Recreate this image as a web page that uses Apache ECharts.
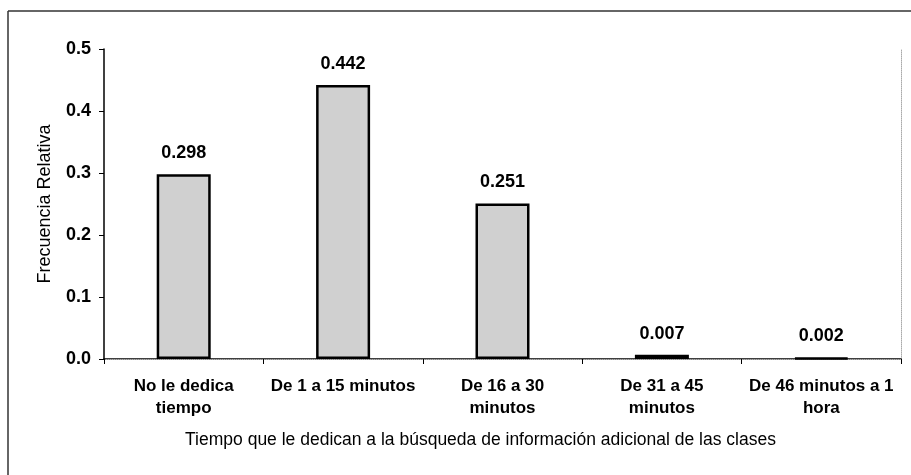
<!DOCTYPE html>
<html>
<head>
<meta charset="utf-8">
<script src="https://cdn.jsdelivr.net/npm/echarts@6/dist/echarts.min.js"></script>
<style>
  html, body { margin: 0; padding: 0; background: #fff; }
  #chart { width: 911px; height: 475px; }
</style>
</head>
<body>
<div id="chart"></div>
<script>
// categorías del eje X
const categorias = ['No le dedica\ntiempo', 'De 1 a 15 minutos', 'De 16 a 30\nminutos', 'De 31 a 45\nminutos', 'De 46 minutos a 1\nhora'];
// frecuencia relativa
const frecuencias = [0.298, 0.442, 0.251, 0.007, 0.002];
const yTicks = [0.0, 0.1, 0.2, 0.3, 0.4, 0.5];

const chart = echarts.init(document.getElementById('chart'));
const fuente = '"Liberation Sans", Arial, sans-serif';

const option = {
  animation: false,
  backgroundColor: '#fff',
  textStyle: { fontFamily: fuente, color: '#000' },
  grid: { left: 104, right: 10, top: 49, bottom: 116 },
  // marco exterior (solo arriba e izquierda)
  graphic: [
    { type: 'line', shape: { x1: 8, y1: 11, x2: 911, y2: 11 }, style: { stroke: '#333', lineWidth: 1.5 } },
    { type: 'line', shape: { x1: 8, y1: 11, x2: 8, y2: 475 }, style: { stroke: '#333', lineWidth: 1.5 } }
  ],
  xAxis: [{
    type: 'category',
    data: categorias,
    name: 'Tiempo que le dedican a la búsqueda de información adicional de las clases',
    nameLocation: 'middle',
    nameGap: 72,
    nameTextStyle: { fontSize: 17.5, fontFamily: fuente, color: '#000', padding: [0, 44, 0, 0] },
    axisLine: { lineStyle: { color: '#000', width: 1.5 } },
    axisTick: { show: true, length: 5, lineStyle: { color: '#000' } },
    axisLabel: { fontSize: 17, fontWeight: 'bold', lineHeight: 22, color: '#000', margin: 16, interval: 0 }
  }, {
    type: 'category',
    data: categorias,
    position: 'top',
    axisLine: { lineStyle: { color: '#aaa', type: 'dotted', width: 1 } },
    axisTick: { show: false },
    axisLabel: { show: false }
  }],
  yAxis: [{
    type: 'value',
    min: 0,
    max: 0.5,
    interval: 0.1,
    name: 'Frecuencia Relativa',
    nameLocation: 'middle',
    nameRotate: 90,
    nameGap: 50,
    nameTextStyle: { fontSize: 18, fontFamily: fuente, color: '#000' },
    axisLine: { show: true, lineStyle: { color: '#000', width: 1.5 } },
    axisTick: { show: true, length: 5, lineStyle: { color: '#000' } },
    axisLabel: {
      fontSize: 18, fontWeight: 'bold', color: '#000', margin: 13,
      formatter: v => yTicks.includes(Math.round(v * 10) / 10) ? v.toFixed(1) : ''
    },
    splitLine: { show: false }
  }, {
    type: 'value',
    min: 0,
    max: 0.5,
    position: 'right',
    axisLine: { show: true, lineStyle: { color: '#aaa', type: 'dotted', width: 1 } },
    axisTick: { show: false },
    axisLabel: { show: false },
    splitLine: { show: false }
  }],
  series: [{
    type: 'bar',
    data: frecuencias,
    barWidth: 54,
    itemStyle: { color: '#d0d0d0', borderColor: '#000', borderWidth: 2.5 },
    label: {
      show: true,
      position: 'top',
      distance: 12,
      fontSize: 18,
      fontWeight: 'bold',
      color: '#000',
      formatter: p => p.value.toFixed(3)
    }
  }]
};

chart.setOption(option);
</script>
</body>
</html>
